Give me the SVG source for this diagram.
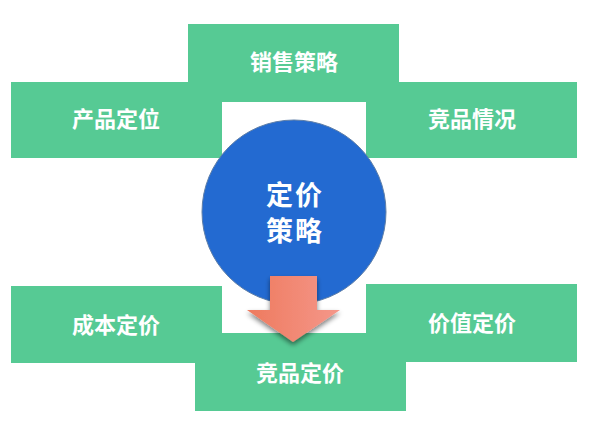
<svg xmlns="http://www.w3.org/2000/svg" width="589" height="428" viewBox="0 0 589 428">
<style>
.box{fill:#56CA94}
.lbl{font-family:"Noto Sans CJK SC","Noto Sans CJK TC",sans-serif;font-weight:bold;font-size:22px;fill:#FFFFFF;text-anchor:middle;dominant-baseline:central}
.ctr{font-family:"Noto Sans CJK SC","Noto Sans CJK TC",sans-serif;font-weight:bold;font-size:27px;fill:#FFFFFF;text-anchor:middle;dominant-baseline:central;letter-spacing:2px}
</style>
<defs>
<linearGradient id="ag" x1="0" y1="0" x2="1" y2="0">
<stop offset="0" stop-color="#EE7A5E"/>
<stop offset="1" stop-color="#F5978A"/>
</linearGradient>
<filter id="sh" x="-30%" y="-30%" width="160%" height="170%">
<feGaussianBlur in="SourceAlpha" stdDeviation="2.5"/>
<feOffset dx="0" dy="3" result="b"/>
<feComponentTransfer><feFuncA type="linear" slope="0.5"/></feComponentTransfer>
<feMerge><feMergeNode/><feMergeNode in="SourceGraphic"/></feMerge>
</filter>
</defs>
<g id="top-sales">
<rect class="box" x="188" y="24" width="211" height="78"/>
<text class="lbl" x="294" y="60">销售策略</text>
</g>
<g id="product-position">
<rect class="box" x="11" y="82" width="211" height="76"/>
<text class="lbl" x="116" y="117">产品定位</text>
</g>
<g id="competitor-status">
<rect class="box" x="366" y="82" width="211" height="76"/>
<text class="lbl" x="472" y="117">竞品情况</text>
</g>
<g id="cost-pricing">
<rect class="box" x="11" y="286" width="211" height="77"/>
<text class="lbl" x="116" y="323">成本定价</text>
</g>
<g id="value-pricing">
<rect class="box" x="366" y="284" width="211" height="78"/>
<text class="lbl" x="472" y="321">价值定价</text>
</g>
<g id="competitor-pricing">
<rect class="box" x="195" y="333" width="211" height="78"/>
<text class="lbl" x="300" y="371">竞品定价</text>
</g>
<g id="center">
<circle cx="294" cy="212" r="92" fill="#236AD1" stroke="#5F7FA8" stroke-width="1"/>
<text class="ctr" x="295" y="193">定价</text>
<text class="ctr" x="295" y="229">策略</text>
</g>
<g id="connectors">
<path d="M270 276 H317 V310 H340 L293 342 L247 310 H270 Z" fill="url(#ag)" filter="url(#sh)"/>
</g>
</svg>
